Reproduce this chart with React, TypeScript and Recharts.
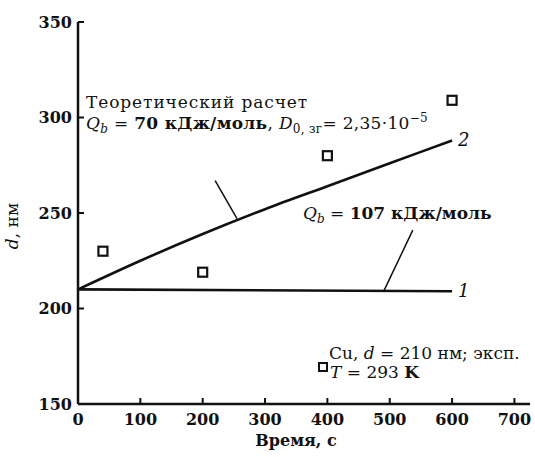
import { ComposedChart, Line, Scatter, XAxis, YAxis, ReferenceLine } from 'recharts'

// time, s
const timeTheory = [0, 100, 200, 300, 400, 500, 600]
const dTheory = [210, 225, 239, 252, 264, 276, 288]
const timeFlat = [0, 600]
const dFlat = [210, 209]
const timeExp = [40, 200, 400, 600]
const dExp = [230, 219, 280, 309]

const xTicks = [0, 100, 200, 300, 400, 500, 600, 700]
const yTicks = [150, 200, 250, 300, 350]

const curve2 = timeTheory.map((t, i) => ({ t, d: dTheory[i] }))
const curve1 = timeFlat.map((t, i) => ({ t, d: dFlat[i] }))
const experiment = timeExp.map((t, i) => ({ t, d: dExp[i] }))

const FONT = '"DejaVu Serif", serif'
const INK = '#111'

document.body.style.margin = '0'
document.body.style.overflow = 'hidden'

const YTick = (props: any) => {
  const { x, y, payload } = props
  return (
    <g>
      <line x1={x + 6} x2={x + 12} y1={y} y2={y} stroke={INK} strokeWidth={2} />
      <text x={x} y={y} dy="0.36em" textAnchor="end" fontFamily={FONT} fontWeight="bold" fontSize={16} fill={INK}>
        {payload.value}
      </text>
    </g>
  )
}

const XTick = (props: any) => {
  const { x, y, payload } = props
  return (
    <g>
      <line x1={x} x2={x} y1={y - 8} y2={y - 14} stroke={INK} strokeWidth={2} />
      <text x={x} y={y} dy="0.8em" textAnchor="middle" fontFamily={FONT} fontWeight="bold" fontSize={16} fill={INK}>
        {payload.value}
      </text>
    </g>
  )
}

const openSquare = (props: any) => (
  <rect x={props.cx - 4.5} y={props.cy - 4.5} width={9} height={9} fill="#fff" stroke={INK} strokeWidth={2.2} />
)

const endLabel = (text: string, last: number) => (props: any) => {
  if (props.index !== last) return null
  return (
    <text x={props.x + 6} y={props.y + 6} fontFamily={FONT} fontStyle="italic" fontSize={18} fill={INK}>
      {text}
    </text>
  )
}

export default function App() {
  return (
    <div style={{ width: 535, height: 457, overflow: 'hidden' }}>
      <ComposedChart width={535} height={457} margin={{ top: 22, right: 5, bottom: 0, left: 0 }}>
        <XAxis
          dataKey="t"
          type="number"
          domain={[0, 725]}
          ticks={xTicks}
          tick={<XTick />}
          tickLine={false}
          tickSize={0}
          tickMargin={8}
          height={53}
          axisLine={{ stroke: INK, strokeWidth: 2.5 }}
        />
        <YAxis
          dataKey="d"
          type="number"
          domain={[150, 350]}
          ticks={yTicks}
          tick={<YTick />}
          tickLine={false}
          tickSize={0}
          tickMargin={6}
          width={78}
          axisLine={{ stroke: INK, strokeWidth: 2.5 }}
        />
        <Line
          data={curve2}
          dataKey="d"
          type="monotone"
          stroke={INK}
          strokeWidth={2.6}
          dot={false}
          label={endLabel('2', curve2.length - 1)}
          isAnimationActive={false}
        />
        <Line
          data={curve1}
          dataKey="d"
          type="linear"
          stroke={INK}
          strokeWidth={2.6}
          dot={false}
          label={endLabel('1', curve1.length - 1)}
          isAnimationActive={false}
        />
        <Scatter data={experiment} dataKey="d" shape={openSquare} isAnimationActive={false} />
        {/* callout leaders */}
        <ReferenceLine segment={[{ x: 220, y: 267 }, { x: 255, y: 247 }]} stroke={INK} strokeWidth={1.5} />
        <ReferenceLine segment={[{ x: 537, y: 241 }, { x: 491, y: 209.5 }]} stroke={INK} strokeWidth={1.5} />

        <g fontFamily={FONT} fill={INK}>
          <text x={86} y={108} fontSize={17} letterSpacing={0.9}>Теоретический расчет</text>
          <text x={86} y={129} fontSize={17} letterSpacing={0.3}>
            <tspan fontStyle="italic">Q</tspan>
            <tspan fontStyle="italic" fontSize={12} dy={4}>b</tspan>
            <tspan dy={-4}> = </tspan>
            <tspan fontWeight="bold">70 кДж/моль</tspan>
            <tspan>, </tspan>
            <tspan fontStyle="italic">D</tspan>
            <tspan fontSize={12} dy={4}>0, зг</tspan>
            <tspan dy={-4}>= 2,35·10</tspan>
            <tspan fontSize={12} dy={-7}>−5</tspan>
          </text>
          <text x={303} y={219} fontSize={17}>
            <tspan fontStyle="italic">Q</tspan>
            <tspan fontStyle="italic" fontSize={12} dy={4}>b</tspan>
            <tspan dy={-4}> = </tspan>
            <tspan fontWeight="bold">107 кДж/моль</tspan>
          </text>

          <rect x={319} y={363} width={8} height={8} fill="#fff" stroke={INK} strokeWidth={2} />
          <text x={329} y={359} fontSize={17}>
            Cu, <tspan fontStyle="italic">d</tspan> = 210 нм; эксп.
          </text>
          <text x={330} y={378} fontSize={17}>
            <tspan fontStyle="italic">T</tspan> = 293 <tspan fontWeight="bold">K</tspan>
          </text>

          <text x={296} y={446} fontSize={16} fontWeight="bold" textAnchor="middle">Время, с</text>
          <text transform="translate(18 226) rotate(-90)" fontSize={17} textAnchor="middle">
            <tspan fontStyle="italic">d</tspan>, нм
          </text>
        </g>
      </ComposedChart>
    </div>
  )
}
